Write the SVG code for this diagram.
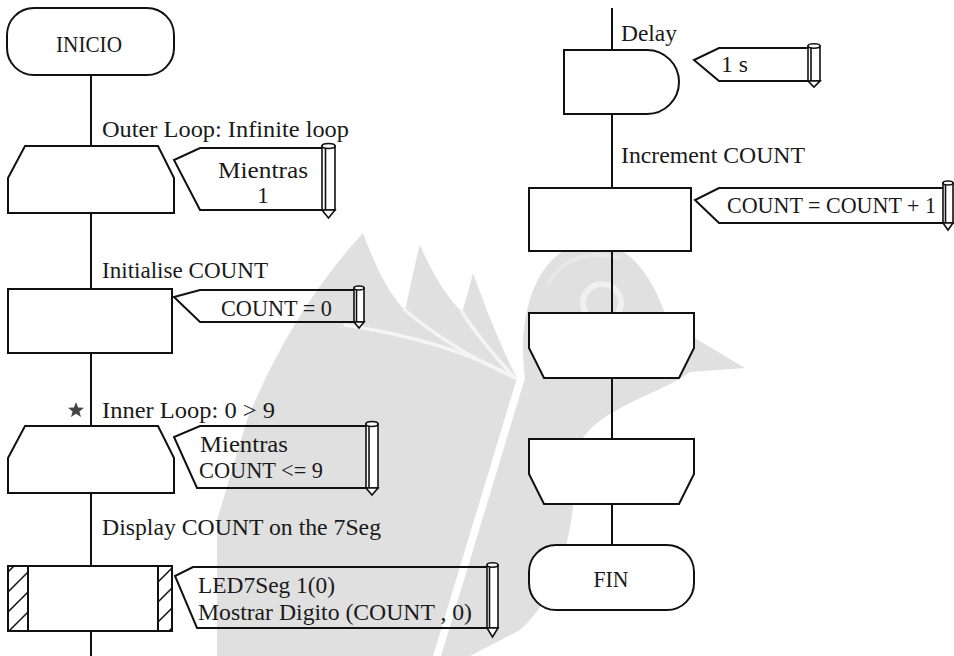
<svg xmlns="http://www.w3.org/2000/svg" width="954" height="656" viewBox="0 0 954 656">
  <style>
    .sym { fill: #ffffff; stroke: #111111; stroke-width: 2; }
    .note { fill: none; stroke: #111111; stroke-width: 2; stroke-linejoin: miter; }
    .pen { fill: #ffffff; stroke: #111111; stroke-width: 1.6; }
    .wire { fill: none; stroke: #111111; stroke-width: 2; }
    .txt { font-family: "Liberation Serif", "Times New Roman", serif; font-size: 23px; fill: #1a1a1a; }
    .mid { text-anchor: middle; }
    .wm { fill: #e0e0e0; stroke: none; }
    .wmgap { fill: none; stroke: #f4f4f4; stroke-width: 3.5; stroke-linecap: round; }
  </style>
  <defs>
    <pattern id="hatch" patternUnits="userSpaceOnUse" width="20" height="20">
      <path d="M0,20 L20,0 M-5,5 L5,-5 M15,25 L25,15" stroke="#111111" stroke-width="1.5"/>
    </pattern>
  </defs>

  <rect width="954" height="656" fill="#ffffff"/>

  <!-- faint background emblem: open book and bird -->
  <g id="emblem">
    <path class="wm" d="M217,656 L217,520 L247,420 C280,340 320,280 363,233 C380,280 395,300 405,310 C410,290 415,262 420,245 C435,280 450,300 462,312 C466,300 470,285 473,273 C490,320 505,355 517,378 L433,656 Z"/>
    <path class="wmgap" d="M405,310 C440,340 480,362 515,378"/>
    <path class="wmgap" d="M462,312 C480,340 500,362 515,378"/>
    <path class="wmgap" d="M345,325 C410,335 470,352 515,378"/>
    <path class="wm" d="M525,378 C515,300 545,245 590,242 C625,240 652,272 668,322 L745,368 L690,372 C660,395 590,410 577,450 C575,520 565,590 520,630 L470,656 L441,656 Z"/>
    <circle cx="602" cy="303" r="19" fill="none" stroke="#f0f0f0" stroke-width="6"/>
    <path d="M548,285 C560,258 590,250 620,258" fill="none" stroke="#e8e8e8" stroke-width="4"/>
  </g>

  <!-- connectors -->
  <g id="connectors">
    <path class="wire" d="M91,75 V146 M91,213 V289 M91,353 V426 M91,493 V566 M91,631 V656"/>
    <path class="wire" d="M612,8 V50 M612,114 V188 M612,251 V313 M612,378 V439 M612,504 V545"/>
  </g>

  <!-- start -->
  <g id="start">
    <rect class="sym" x="7" y="8" width="167" height="67" rx="27" ry="27"/>
    <text class="txt mid" x="89" y="52" textLength="66" lengthAdjust="spacingAndGlyphs">INICIO</text>
  </g>

  <!-- outer loop -->
  <g id="outer-loop">
    <text class="txt" x="102" y="137" textLength="247" lengthAdjust="spacingAndGlyphs">Outer Loop: Infinite loop</text>
    <path class="sym" d="M25,146 H158 L174,178 V213 H8 V178 Z"/>
    <path class="note" d="M323,148 H200 L174,160 L200,210 H323"/>
    <rect class="pen" x="322" y="146" width="13" height="64"/>
    <path class="pen" d="M325.5,146 V210"/>
    <ellipse class="pen" cx="328.5" cy="146" rx="6.5" ry="2.5"/>
    <path class="pen" d="M322,210 H335 L328.5,218 Z"/>
    <text class="txt mid" x="263" y="178" textLength="90" lengthAdjust="spacingAndGlyphs">Mientras</text>
    <text class="txt mid" x="263" y="203">1</text>
  </g>

  <!-- initialise -->
  <g id="init-count">
    <text class="txt" x="102" y="278" textLength="166" lengthAdjust="spacingAndGlyphs">Initialise COUNT</text>
    <rect class="sym" x="8" y="289" width="164" height="64"/>
    <path class="note" d="M354,290 H200 L174,297 L200,322 H354"/>
    <rect class="pen" x="354" y="288" width="10" height="34"/>
    <path class="pen" d="M356.5,288 V322"/>
    <ellipse class="pen" cx="359" cy="288" rx="5" ry="2"/>
    <path class="pen" d="M354,322 H364 L359,328 Z"/>
    <text class="txt" x="221" y="316" textLength="111" lengthAdjust="spacingAndGlyphs">COUNT = 0</text>
  </g>

  <!-- inner loop -->
  <g id="inner-loop">
    <path d="M76,402 L78.1,407.6 L84,407.8 L79.4,411.4 L81,417 L76,413.7 L71,417 L72.6,411.4 L68,407.8 L73.9,407.6 Z" fill="#444444"/>
    <text class="txt" x="102" y="418" textLength="173" lengthAdjust="spacingAndGlyphs">Inner Loop: 0 &gt; 9</text>
    <path class="sym" d="M25,426 H158 L174,458 V493 H8 V458 Z"/>
    <path class="note" d="M366,426 H200 L174,437 L197,488 H366"/>
    <rect class="pen" x="366" y="424" width="12" height="64"/>
    <path class="pen" d="M369,424 V488"/>
    <ellipse class="pen" cx="372" cy="424" rx="6" ry="2.5"/>
    <path class="pen" d="M366,488 H378 L372,495 Z"/>
    <text class="txt" x="200" y="452" textLength="88" lengthAdjust="spacingAndGlyphs">Mientras</text>
    <text class="txt" x="199" y="478" textLength="124" lengthAdjust="spacingAndGlyphs">COUNT &lt;= 9</text>
  </g>

  <!-- display -->
  <g id="display">
    <text class="txt" x="102" y="535" textLength="279" lengthAdjust="spacingAndGlyphs">Display COUNT on the 7Seg</text>
    <rect class="sym" x="8" y="566" width="164" height="65"/>
    <rect x="8" y="566" width="20" height="65" fill="url(#hatch)" stroke="#111111" stroke-width="2"/>
    <rect x="158" y="566" width="14" height="65" fill="url(#hatch)" stroke="#111111" stroke-width="2"/>
    <path class="note" d="M487,567 H193 L175,576 L197,628 H487"/>
    <rect class="pen" x="487" y="565" width="11" height="63"/>
    <path class="pen" d="M489.5,565 V628"/>
    <ellipse class="pen" cx="492.5" cy="565" rx="5.5" ry="2.2"/>
    <path class="pen" d="M487,628 H498 L492.5,637 Z"/>
    <text class="txt" x="198" y="593" textLength="137" lengthAdjust="spacingAndGlyphs">LED7Seg 1(0)</text>
    <text class="txt" x="198" y="620" textLength="274" lengthAdjust="spacingAndGlyphs">Mostrar Digito (COUNT , 0)</text>
  </g>

  <!-- delay -->
  <g id="delay">
    <text class="txt" x="621" y="41" textLength="56" lengthAdjust="spacingAndGlyphs">Delay</text>
    <path class="sym" d="M564,50 H647 A32,32 0 0 1 647,114 H564 Z"/>
    <path class="note" d="M808,48 H719 L694,60 L719,81 H808"/>
    <rect class="pen" x="808" y="46" width="12" height="35"/>
    <path class="pen" d="M811,46 V81"/>
    <ellipse class="pen" cx="814" cy="46" rx="6" ry="2.2"/>
    <path class="pen" d="M808,81 H820 L814,87 Z"/>
    <text class="txt" x="721" y="72" textLength="27" lengthAdjust="spacingAndGlyphs">1 s</text>
  </g>

  <!-- increment -->
  <g id="increment">
    <text class="txt" x="621" y="163" textLength="184" lengthAdjust="spacingAndGlyphs">Increment COUNT</text>
    <rect class="sym" x="529" y="188" width="162" height="63"/>
    <path class="note" d="M943,188 H719 L695,200 L719,223 H943"/>
    <rect class="pen" x="943" y="183" width="10" height="40"/>
    <path class="pen" d="M945.5,183 V223"/>
    <ellipse class="pen" cx="948" cy="183" rx="5" ry="2"/>
    <path class="pen" d="M943,223 H953 L948,230 Z"/>
    <text class="txt" x="727" y="213" textLength="209" lengthAdjust="spacingAndGlyphs">COUNT = COUNT + 1</text>
  </g>

  <!-- loop ends -->
  <g id="inner-loop-end">
    <path class="sym" d="M529,313 H694 V348 L679,378 H544 L529,348 Z"/>
  </g>
  <g id="outer-loop-end">
    <path class="sym" d="M529,439 H694 V474 L679,504 H544 L529,474 Z"/>
  </g>

  <!-- end -->
  <g id="end">
    <rect class="sym" x="529" y="545" width="165" height="65" rx="27" ry="27"/>
    <text class="txt mid" x="611" y="587" textLength="35" lengthAdjust="spacingAndGlyphs">FIN</text>
  </g>
</svg>
